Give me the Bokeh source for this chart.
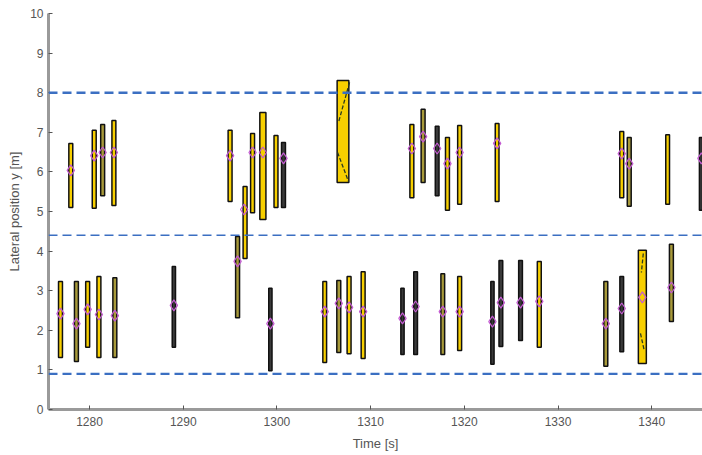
from bokeh.plotting import figure
from bokeh.models import Span, Range1d, ColumnDataSource, FixedTicker
from bokeh.transform import factor_cmap
from bokeh.embed import file_html
from bokeh.resources import INLINE

# ---- data ----
# upper lane vehicles
up_t = [1278.0, 1280.5, 1281.4, 1282.6, 1295.0, 1296.6, 1297.4, 1298.5, 1299.9, 1300.7,
        1307.05, 1314.4, 1315.6, 1317.1, 1318.2, 1319.5, 1323.5, 1336.8, 1337.6, 1341.7, 1345.3]
up_lo = [5.10, 5.08, 5.40, 5.15, 5.25, 3.81, 4.97, 4.80, 5.10, 5.10,
         5.73, 5.35, 5.73, 5.40, 5.03, 5.18, 5.25, 5.35, 5.13, 5.18, 5.03]
up_hi = [6.72, 7.05, 7.20, 7.30, 7.05, 5.63, 6.97, 7.50, 6.92, 6.74,
         8.31, 7.20, 7.58, 7.15, 6.87, 7.17, 7.22, 7.02, 6.87, 6.94, 6.87]
up_dur = [0.42, 0.42, 0.42, 0.42, 0.42, 0.42, 0.42, 0.65, 0.42, 0.42,
          1.25, 0.42, 0.42, 0.4, 0.42, 0.42, 0.4, 0.42, 0.42, 0.4, 0.42]
up_kind = ["y", "y", "o", "y", "y", "y", "y", "y", "y", "d",
           "y", "y", "o", "d", "y", "y", "y", "y", "o", "y", "d"]
up_dt = [1278.0, 1280.5, 1281.4, 1282.6, 1295.0, 1296.5, 1297.4, 1298.5, 1300.7, 1314.4,
         1315.6, 1317.1, 1318.2, 1319.5, 1323.5, 1336.8, 1337.6, 1345.3]
up_dy = [6.04, 6.41, 6.49, 6.49, 6.41, 5.05, 6.49, 6.49, 6.34, 6.59,
         6.89, 6.59, 6.21, 6.49, 6.72, 6.46, 6.21, 6.34]

# lower lane vehicles
lo_t = [1276.9, 1278.6, 1279.8, 1281.0, 1282.7, 1289.0, 1295.8, 1299.3, 1305.1, 1306.6,
        1307.7, 1309.2, 1313.4, 1314.8, 1317.7, 1319.5, 1323.0, 1323.9, 1326.0, 1328.0,
        1335.1, 1336.8, 1339.0, 1342.1]
lo_lo = [1.31, 1.21, 1.57, 1.31, 1.31, 1.57, 2.32, 0.98, 1.19, 1.44,
         1.41, 1.29, 1.39, 1.39, 1.39, 1.49, 1.14, 1.59, 1.74, 1.57,
         1.09, 1.46, 1.16, 2.22]
lo_hi = [3.23, 3.23, 3.23, 3.36, 3.33, 3.61, 4.37, 3.06, 3.23, 3.26,
         3.36, 3.48, 3.06, 3.48, 3.43, 3.36, 3.23, 3.76, 3.76, 3.74,
         3.23, 3.36, 4.02, 4.17]
lo_dur = [0.42, 0.42, 0.42, 0.42, 0.42, 0.35, 0.42, 0.35, 0.4, 0.42,
          0.42, 0.42, 0.35, 0.4, 0.4, 0.42, 0.35, 0.4, 0.4, 0.42,
          0.42, 0.4, 0.85, 0.42]
lo_kind = ["y", "o", "y", "y", "o", "d", "o", "d", "y", "o",
           "y", "y", "d", "d", "o", "y", "d", "d", "d", "y",
           "o", "d", "y", "o"]
lo_dy = [2.42, 2.17, 2.53, 2.40, 2.37, 2.63, 3.74, 2.17, 2.47, 2.68,
         2.58, 2.47, 2.30, 2.60, 2.47, 2.47, 2.22, 2.70, 2.70, 2.73,
         2.17, 2.55, 2.83, 3.08]

# trajectory traces inside the two large boxes
tr_x0 = [1307.75, 1306.47, 1339.1, 1338.8]
tr_y0 = [8.26, 6.49, 3.94, 1.92]
tr_x1 = [1306.57, 1307.64, 1338.9, 1339.2]
tr_y1 = [7.25, 5.76, 3.46, 1.49]

lane_lines = [8.0, 4.4, 0.9]
x_ticks = [1280, 1290, 1300, 1310, 1320, 1330, 1340]
y_ticks = [0, 1, 2, 3, 4, 5, 6, 7, 8, 9, 10]

# ---- figure ----
p = figure(width=702, height=455, output_backend="svg", toolbar_location=None,
           x_range=Range1d(1275.62, 1345.42), y_range=Range1d(0, 10),
           min_border_left=48, min_border_right=0, min_border_top=13, min_border_bottom=46)
p.outline_line_color = None
p.grid.visible = False
p.background_fill_color = "white"
p.border_fill_color = "white"

for yv, w in zip(lane_lines, [2.4, 1.5, 2.4]):
    p.add_layout(Span(location=yv, dimension="width", line_color="#3b6fc2",
                      line_width=w, line_dash="9 5"))

kinds = ["y", "o", "d"]
pal = ["#f7cf00", "#a89a3a", "#3a3a3a"]

src_up = ColumnDataSource(dict(x=up_t, lo=up_lo, hi=up_hi, w=up_dur, k=up_kind))
src_lo = ColumnDataSource(dict(x=lo_t, lo=lo_lo, hi=lo_hi, w=lo_dur, k=lo_kind))
for src in (src_up, src_lo):
    p.vbar(x="x", width="w", bottom="lo", top="hi", source=src,
           fill_color=factor_cmap("k", pal, kinds), line_color="#111111", line_width=1.5)

p.segment(x0=tr_x0, y0=tr_y0, x1=tr_x1, y1=tr_y1, line_color="#2a3a20",
          line_width=1.3, line_dash="4 2")

p.scatter(up_dt, up_dy, marker="diamond", size=11, fill_color=None,
          line_color="#c45ad2", line_width=1.2)
p.scatter(lo_t, lo_dy, marker="diamond", size=11, fill_color=None,
          line_color="#c45ad2", line_width=1.2)

for ax in (p.xaxis[0], p.yaxis[0]):
    ax.axis_line_color = "#9a9a9a"
    ax.axis_line_width = 3
    ax.major_tick_line_color = "#555555"
    ax.major_tick_in = 4
    ax.major_tick_out = 0
    ax.minor_tick_line_color = None
    ax.major_label_text_color = "#555555"
    ax.major_label_text_font = "Liberation Sans"
    ax.major_label_text_font_size = "12px"
    ax.axis_label_text_color = "#555555"
    ax.axis_label_text_font = "Liberation Sans"
    ax.axis_label_text_font_size = "13px"
    ax.axis_label_text_font_style = "normal"

p.xaxis.ticker = FixedTicker(ticks=x_ticks)
p.yaxis.ticker = FixedTicker(ticks=y_ticks)
p.xaxis.axis_label = "Time [s]"
p.yaxis.axis_label = "Lateral position y [m]"
p.xaxis.major_label_standoff = 7
p.xaxis.axis_label_standoff = 7
p.yaxis.major_label_standoff = 5
p.yaxis.axis_label_standoff = 5

open("out.html", "w").write(file_html(p, INLINE))
